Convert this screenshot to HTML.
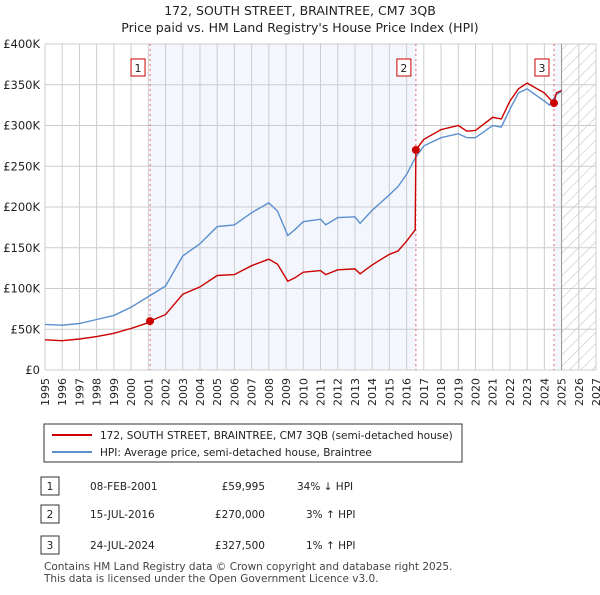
<!DOCTYPE html>
<html><head><meta charset="utf-8"><style>
body{margin:0;background:#fff;font-family:"Liberation Sans","DejaVu Sans",sans-serif;}
svg text{font-family:"DejaVu Sans","Liberation Sans",sans-serif;}
</style></head><body>
<svg id="c" width="600" height="590" xmlns="http://www.w3.org/2000/svg">
<defs><pattern id="hatch" width="8" height="8" patternUnits="userSpaceOnUse" patternTransform="rotate(45)"><line x1="0" y1="0" x2="0" y2="8" stroke="#bbb" stroke-width="1"/></pattern></defs>
<text x="300" y="15" text-anchor="middle" font-size="12.5" fill="#222">172, SOUTH STREET, BRAINTREE, CM7 3QB</text>
<text x="300" y="32" text-anchor="middle" font-size="12.5" fill="#222">Price paid vs. HM Land Registry's House Price Index (HPI)</text>
<g id="plot"></g>
<rect x="44" y="424" width="418" height="38" fill="#fff" stroke="#333"/>
<line x1="52" y1="435" x2="92" y2="435" stroke="#cc0000" stroke-width="2"/>
<text x="100" y="439" font-size="10.5" fill="#222">172, SOUTH STREET, BRAINTREE, CM7 3QB (semi-detached house)</text>
<line x1="52" y1="452" x2="92" y2="452" stroke="#5b8fd0" stroke-width="2"/>
<text x="100" y="456" font-size="10.5" fill="#222">HPI: Average price, semi-detached house, Braintree</text>
<g font-size="10.5" fill="#222">
<rect x="41" y="477" width="18" height="18" fill="#fff" stroke="#333"/><text x="50" y="490" text-anchor="middle">1</text>
<text x="90" y="490">08-FEB-2001</text><text x="265" y="490" text-anchor="end">£59,995</text><text x="297" y="490">34% ↓ HPI</text>
<rect x="41" y="505" width="18" height="18" fill="#fff" stroke="#333"/><text x="50" y="518" text-anchor="middle">2</text>
<text x="90" y="518">15-JUL-2016</text><text x="265" y="518" text-anchor="end">£270,000</text><text x="306" y="518">3% ↑ HPI</text>
<rect x="41" y="536" width="18" height="18" fill="#fff" stroke="#333"/><text x="50" y="549" text-anchor="middle">3</text>
<text x="90" y="549">24-JUL-2024</text><text x="265" y="549" text-anchor="end">£327,500</text><text x="306" y="549">1% ↑ HPI</text>
</g>
<text x="44" y="570" font-size="10.5" fill="#444">Contains HM Land Registry data © Crown copyright and database right 2025.</text>
<text x="44" y="582" font-size="10.5" fill="#444">This data is licensed under the Open Government Licence v3.0.</text>
</svg>
<script>
const hpiYears=[1995,1996,1997,1998,1999,2000,2001,2002,2003,2004,2005,2006,2007,2008,2008.5,2009.1,2009.5,2010,2011,2011.3,2012,2013,2013.3,2014,2015,2015.5,2016,2016.5,2017,2018,2019,2019.5,2020,2021,2021.5,2022,2022.5,2023,2024,2024.3,2024.7,2025];
const hpiValues=[56,55,57,62,67,77,90,103,140,155,176,178,193,205,195,165,172,182,185,178,187,188,180,196,215,225,240,260,275,285,290,285,285,300,298,320,340,345,330,325,338,342];
const priceYears=[1995,1996,1997,1998,1999,2000,2001,2001.1,2002,2003,2004,2005,2006,2007,2008,2008.5,2009.1,2009.5,2010,2011,2011.3,2012,2013,2013.3,2014,2015,2015.5,2016,2016.5,2016.54,2017,2018,2019,2019.5,2020,2021,2021.5,2022,2022.5,2023,2024,2024.3,2024.56,2024.7,2025];
const priceValues=[37,36,38,41,45,51,58,60,68,93,102,116,117,128,136,130,109,113,120,122,117,123,124,118,129,142,146,158,172,270,283,295,300,293,294,310,308,330,345,352,340,333,327.5,340,343];
const saleYears=[2001.1,2016.54,2024.56];
const saleValues=[59.995,270,327.5];
const saleLabels=["1","2","3"];
const yTicks=[0,50,100,150,200,250,300,350,400];
const yTickLabels=["£0","£50K","£100K","£150K","£200K","£250K","£300K","£350K","£400K"];
const xTicks=[1995,1996,1997,1998,1999,2000,2001,2002,2003,2004,2005,2006,2007,2008,2009,2010,2011,2012,2013,2014,2015,2016,2017,2018,2019,2020,2021,2022,2023,2024,2025,2026,2027];

const L=45,R=596,T=44,B=370,X0=1995,X1=2027,Ymax=400;
const X=v=>L+(v-X0)/(X1-X0)*(R-L);
const Y=v=>B-v/Ymax*(B-T);
const NS="http://www.w3.org/2000/svg";
const g=document.getElementById('plot');
function el(t,a,p){const e=document.createElementNS(NS,t);for(const k in a)e.setAttribute(k,a[k]);(p||g).appendChild(e);return e;}

let r=el('rect',{x:X(saleYears[0]),y:T,width:X(saleYears[1])-X(saleYears[0]),height:B-T,fill:'#f3f6fd'});


r=el('rect',{x:X(saleYears[2]),y:T,width:X(2025)-X(saleYears[2]),height:B-T,fill:'#f3f6fd'});


r=el('rect',{x:X(2025),y:T,width:R-X(2025),height:B-T,fill:'url(#hatch)'});



xTicks.forEach(v=>{const l=el('line',{x1:X(v),x2:X(v),y1:T,y2:B,stroke:'#ccc'});


const t=el('text',{x:X(v)+4,y:B+8,'font-size':11,fill:'#222','text-anchor':'end',transform:`rotate(-90 ${X(v)+4} ${B+8})`});t.textContent=v;

});
yTicks.forEach((v,i)=>{const l=el('line',{x1:L,x2:R,y1:Y(v),y2:Y(v),stroke:'#ccc'});


const t=el('text',{x:L-5,y:Y(v)+4,'font-size':11.5,fill:'#222','text-anchor':'end'});t.textContent=yTickLabels[i];

});
let ln=el('line',{x1:X(2025),x2:X(2025),y1:T,y2:B,stroke:'#999'});



saleYears.forEach((v,i)=>{const l=el('line',{x1:X(v),x2:X(v),y1:T,y2:B,stroke:'#e06666','stroke-dasharray':'2,3'});


const bx=el('rect',{x:X(v)-19,y:59,width:14,height:17,fill:'#fff',stroke:'#cc0000'});


const t=el('text',{x:X(v)-12,y:72,'font-size':11,fill:'#222','text-anchor':'middle'});t.textContent=saleLabels[i];

});

const pts=(xs,ys)=>xs.map((x,i)=>X(x).toFixed(1)+','+Y(ys[i]).toFixed(1)).join(' ');
let p=el('polyline',{points:pts(hpiYears,hpiValues),fill:'none',stroke:'#5b8fd0','stroke-width':1.4});


p=el('polyline',{points:pts(priceYears,priceValues),fill:'none',stroke:'#cc0000','stroke-width':1.4});


saleYears.forEach((v,i)=>{const c=el('circle',{cx:X(v),cy:Y(saleValues[i]),r:4,fill:'#cc0000'});

});
</script>
</body></html>
